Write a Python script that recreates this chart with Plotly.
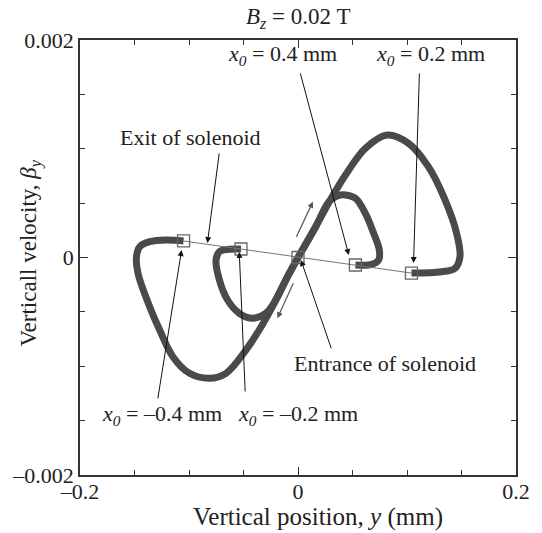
import plotly.graph_objects as go

# ---- data ----
# trajectory x0 = 0.2 mm (outer loop on the right)
pos_p02 = [0, 0.0162, 0.0313, 0.0466, 0.0618, 0.0816, 0.1014, 0.1196, 0.1349, 0.1455, 0.1486, 0.1440, 0.1318, 0.1041]
vel_p02 = [0, 0.000283, 0.000559, 0.000805, 0.001004, 0.001126, 0.001050, 0.000835, 0.000529, 0.000223, 0.000007, -0.0000993, -0.000131, -0.000143]
# trajectory x0 = 0.4 mm (inner loop on the right)
pos_p04 = [0, 0.0162, 0.0283, 0.0359, 0.0436, 0.0527, 0.0618, 0.0694, 0.0746, 0.0740, 0.0679, 0.0527]
vel_p04 = [0, 0.000283, 0.000513, 0.000566, 0.000575, 0.000544, 0.000406, 0.000223, 0.000069, -0.000023, -0.0000625, -0.000069]
# trajectory x0 = -0.4 mm (outer loop on the left)
pos_m04 = [0, -0.0112, -0.0235, -0.0356, -0.0478, -0.0660, -0.0813, -0.0995, -0.1148, -0.1269, -0.1361, -0.1468, -0.1482, -0.1452, -0.1361, -0.1208, -0.1050]
vel_m04 = [0, -0.000207, -0.000452, -0.000667, -0.000851, -0.001065, -0.001111, -0.001065, -0.000912, -0.000667, -0.000452, -0.000145, 0.000007, 0.0000993, 0.000145, 0.000161, 0.000152]
# trajectory x0 = -0.2 mm (inner loop on the left)
pos_m02 = [0, -0.0112, -0.0204, -0.0295, -0.0417, -0.0539, -0.0646, -0.0721, -0.0752, -0.0721, -0.0630, -0.0523]
vel_m02 = [0, -0.000207, -0.000391, -0.000513, -0.000559, -0.000513, -0.000391, -0.000207, -0.000023, 0.0000533, 0.0000754, 0.0000782]

# end points (exit of solenoid) and entrance point
exit_pos = [-0.1050, -0.0523, 0, 0.0527, 0.1041]
exit_vel = [0.000152, 0.0000782, 0, -0.000069, -0.000143]

x_tickvals = [-0.2, 0, 0.2]
x_ticktext = ["\u20130.2", "0", "0.2"]
y_tickvals = [-0.002, 0, 0.002]
y_ticktext = ["\u20130.002", "0", "0.002"]

FONT = "Liberation Serif"
CURVE = "#4a4a4a"

fig = go.Figure()
for xs, ys in [(pos_p02, vel_p02), (pos_p04, vel_p04), (pos_m04, vel_m04), (pos_m02, vel_m02)]:
    fig.add_trace(go.Scatter(x=xs, y=ys, mode="lines",
                             line=dict(color=CURVE, width=7, shape="spline", smoothing=1.0),
                             hoverinfo="skip", showlegend=False))
fig.add_trace(go.Scatter(x=exit_pos, y=exit_vel, mode="lines+markers",
                         line=dict(color="#777777", width=1),
                         marker=dict(symbol="square-open", size=12, color="#666666",
                                     line=dict(width=1.3, color="#666666")),
                         hoverinfo="skip", showlegend=False))

ann = []
def text(t, x, y, xref="x", yref="y", **kw):
    d = dict(text=t, x=x, y=y, xref=xref, yref=yref, showarrow=False,
             xanchor="center", yanchor="middle",
             font=dict(family=FONT, size=22, color="#222222"))
    d.update(kw)
    ann.append(d)

def arrow(hx, hy, tx, ty, color="#111111", width=1.0, size=1.2):
    ann.append(dict(text="", x=hx, y=hy, ax=tx, ay=ty, xref="x", yref="y",
                    axref="x", ayref="y", showarrow=True, arrowhead=2,
                    arrowsize=size, arrowwidth=width, arrowcolor=color, standoff=0))

text("Exit of solenoid", -0.0986, 0.001099)
arrow(-0.0831, 0.000133, -0.0721, 0.00097)
text("<i>x</i><sub><i>0</i></sub> = 0.4 mm", -0.0146, 0.00186)
arrow(0.0466, 0.000023, 0.0018, 0.001706)
text("<i>x</i><sub><i>0</i></sub> = 0.2 mm", 0.1215, 0.00186)
arrow(0.1060, -0.0000506, 0.1114, 0.001706)
text("Entrance of solenoid", 0.0795, -0.000979)
arrow(0.0027, -0.000023, 0.0310, -0.00085)
text("<i>x</i><sub><i>0</i></sub> = \u20130.4 mm", -0.1251, -0.001448)
arrow(-0.1068, 0.000069, -0.1288, -0.00131)
text("<i>x</i><sub><i>0</i></sub> = \u20130.2 mm", 0.0, -0.001448)
arrow(-0.0539, 0.0000506, -0.0484, -0.001246)
# direction arrows along the trajectory
arrow(0.0137, 0.000513, -0.0021, 0.000177, color="#555555", width=1.2, size=1.0)
arrow(-0.0189, -0.000559, -0.0037, -0.000223, color="#555555", width=1.2, size=1.0)

# titles
text("<i>B</i><sub><i>z</i></sub> = 0.02 T", 0.5, 1.0, xref="paper", yref="paper",
     yanchor="bottom", yshift=6, font=dict(family=FONT, size=23, color="#222222"))
text("Vertical position, <i>y</i> (mm)", 0.546, -0.097, xref="paper", yref="paper",
     font=dict(family=FONT, size=25, color="#222222"))
text("Verticall velocity, <i>\u03b2</i><sub><i>y</i></sub>", -0.114, 0.51, xref="paper", yref="paper",
     textangle=-90, font=dict(family=FONT, size=23, color="#222222"))

axis_common = dict(showline=True, linecolor="#333333", linewidth=1.5, mirror="ticks",
                   ticks="inside", ticklen=8, tickwidth=1.2, tickcolor="#333333",
                   showgrid=False, zeroline=False,
                   tickfont=dict(family=FONT, size=22, color="#222222"))

fig.update_layout(
    width=542, height=533,
    margin=dict(l=80, r=24, t=40, b=58),
    paper_bgcolor="white", plot_bgcolor="white",
    xaxis=dict(range=[-0.2, 0.2], tickvals=x_tickvals, ticktext=x_ticktext,
               ticklabelstandoff=-4,
               minor=dict(ticks="inside", dtick=0.05, ticklen=5, tickwidth=1.2, tickcolor="#333333"),
               **axis_common),
    yaxis=dict(range=[-0.002, 0.002], tickvals=y_tickvals, ticktext=y_ticktext,
               minor=dict(ticks="inside", dtick=0.0005, ticklen=5, tickwidth=1.2, tickcolor="#333333"),
               **axis_common),
    annotations=ann,
    showlegend=False,
)

fig.write_html("out.html")
